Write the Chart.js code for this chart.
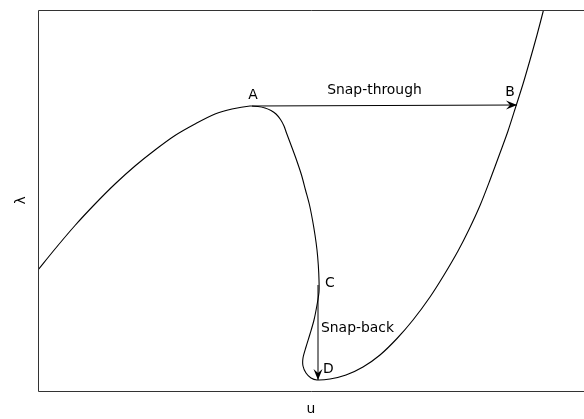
<!DOCTYPE html>
<html>
<head>
<meta charset="utf-8">
<script src="https://cdn.jsdelivr.net/npm/chart.js@4/dist/chart.umd.min.js"></script>
<style>
  html, body { margin: 0; padding: 0; background: #fff; }
  #wrap { width: 584px; height: 419px; position: relative; }
</style>
</head>
<body>
<div id="wrap"><canvas id="chart"></canvas></div>
<script>
// load-displacement path (u, lambda)
const uValues = [
    0.00, 0.17, 0.37, 0.57, 0.77, 0.97, 1.17, 1.37, 1.57, 1.77,
    1.94, 2.12, 2.20, 2.27, 2.33, 2.38, 2.425, 2.46, 2.485, 2.53,
    2.585, 2.635, 2.675, 2.715, 2.745, 2.77, 2.79, 2.803, 2.81, 2.81,
    2.79, 2.76, 2.72, 2.68, 2.65, 2.65, 2.68, 2.73, 2.79, 2.92,
    3.08, 3.25, 3.42, 3.59, 3.75, 3.92, 4.06, 4.20, 4.31, 4.42,
    4.52, 4.62, 4.70, 4.78, 4.85, 4.92, 4.99, 5.05, 5.08
];
const lambdaValues = [
    1.21, 1.42, 1.655, 1.87, 2.07, 2.25, 2.41, 2.555, 2.67, 2.77,
    2.82, 2.85, 2.845, 2.83, 2.805, 2.77, 2.715, 2.65, 2.58, 2.46,
    2.31, 2.16, 2.01, 1.86, 1.71, 1.56, 1.41, 1.26, 1.11, 0.99,
    0.86, 0.71, 0.57, 0.44, 0.33, 0.25, 0.18, 0.13, 0.11, 0.12,
    0.16, 0.24, 0.36, 0.525, 0.71, 0.94, 1.16, 1.40, 1.615, 1.855,
    2.11, 2.38, 2.60, 2.85, 3.07, 3.31, 3.56, 3.79, 3.91
];

// marked points on the path
const pointNames = ['A', 'B', 'C', 'D'];
const pointU = [2.14, 4.79, 2.80, 2.80];
const pointLambda = [2.85, 2.86, 1.06, 0.11];

// jumps between marked points
const jumpLabels = ['Snap-through', 'Snap-back'];
const jumpFrom = ['A', 'C'];
const jumpTo = ['B', 'D'];

const FONT = '13.9px "DejaVu Sans", sans-serif';

function pt(name) {
    const i = pointNames.indexOf(name);
    return { x: pointU[i], y: pointLambda[i] };
}

function arrowHead(ctx, x1, y1, x2, y2) {
    const ang = Math.atan2(y2 - y1, x2 - x1);
    const len = 11, wid = 4.5, notch = 7;
    ctx.save();
    ctx.translate(x2, y2);
    ctx.rotate(ang);
    ctx.beginPath();
    ctx.moveTo(0, 0);
    ctx.lineTo(-len, -wid);
    ctx.lineTo(-notch, 0);
    ctx.lineTo(-len, wid);
    ctx.closePath();
    ctx.fill();
    ctx.restore();
}

const decorations = {
    id: 'decorations',
    afterDatasetsDraw(chart) {
        const { ctx, chartArea: a, scales } = chart;
        const px = v => scales.x.getPixelForValue(v);
        const py = v => scales.y.getPixelForValue(v);

        ctx.save();
        // frame: left, top, bottom
        ctx.strokeStyle = '#333';
        ctx.lineWidth = 1;
        ctx.beginPath();
        ctx.moveTo(a.right, a.top + 0.5);
        ctx.lineTo(a.left + 0.5, a.top + 0.5);
        ctx.lineTo(a.left + 0.5, a.bottom + 0.5);
        ctx.lineTo(a.right, a.bottom + 0.5);
        ctx.stroke();

        // jump arrows
        ctx.strokeStyle = '#000';
        ctx.fillStyle = '#000';
        jumpFrom.forEach((f, i) => {
            const p1 = pt(f), p2 = pt(jumpTo[i]);
            const x1 = px(p1.x), y1 = py(p1.y), x2 = px(p2.x), y2 = py(p2.y);
            ctx.beginPath();
            ctx.moveTo(x1, y1);
            ctx.lineTo(x2, y2);
            ctx.stroke();
            arrowHead(ctx, x1, y1, x2, y2);
        });

        // text labels
        ctx.font = FONT;
        ctx.fillStyle = '#000';
        ctx.textBaseline = 'middle';

        const A = pt('A'), B = pt('B'), C = pt('C'), D = pt('D');
        ctx.textAlign = 'center';
        ctx.fillText('A', px(A.x) + 1, py(A.y) - 11);
        ctx.fillText('B', px(B.x) - 7, py(B.y) - 13);
        ctx.fillText(jumpLabels[0], (px(A.x) + px(B.x)) / 2 - 10, py(A.y) - 16);
        ctx.textAlign = 'left';
        ctx.fillText('C', px(C.x) + 7, py(C.y) - 2);
        ctx.fillText('D', px(D.x) + 5, py(D.y) - 11);
        ctx.fillText(jumpLabels[1], px(C.x) + 3, (py(C.y) + py(D.y)) / 2 - 4);

        // axis titles
        ctx.textAlign = 'center';
        ctx.fillText('u', (a.left + a.right) / 2, 409);
        ctx.save();
        ctx.translate(21, (a.top + a.bottom) / 2);
        ctx.rotate(-Math.PI / 2);
        ctx.fillText('λ', 0, 0);
        ctx.restore();
        ctx.restore();
    }
};

new Chart(document.getElementById('chart'), {
    type: 'scatter',
    data: {
        datasets: [{
            data: uValues.map((u, i) => ({ x: u, y: lambdaValues[i] })),
            showLine: true,
            borderColor: '#000',
            borderWidth: 1.1,
            pointRadius: 0,
            tension: 0.3,
            fill: false
        }]
    },
    options: {
        responsive: true,
        maintainAspectRatio: false,
        animation: false,
        layout: { padding: { left: 38, top: 10, right: 0, bottom: 28 } },
        plugins: {
            legend: { display: false },
            tooltip: { enabled: false }
        },
        scales: {
            x: { type: 'linear', min: 0, max: 5.46, display: false },
            y: { type: 'linear', min: 0, max: 3.81, display: false }
        }
    },
    plugins: [decorations]
});
</script>
</body>
</html>
